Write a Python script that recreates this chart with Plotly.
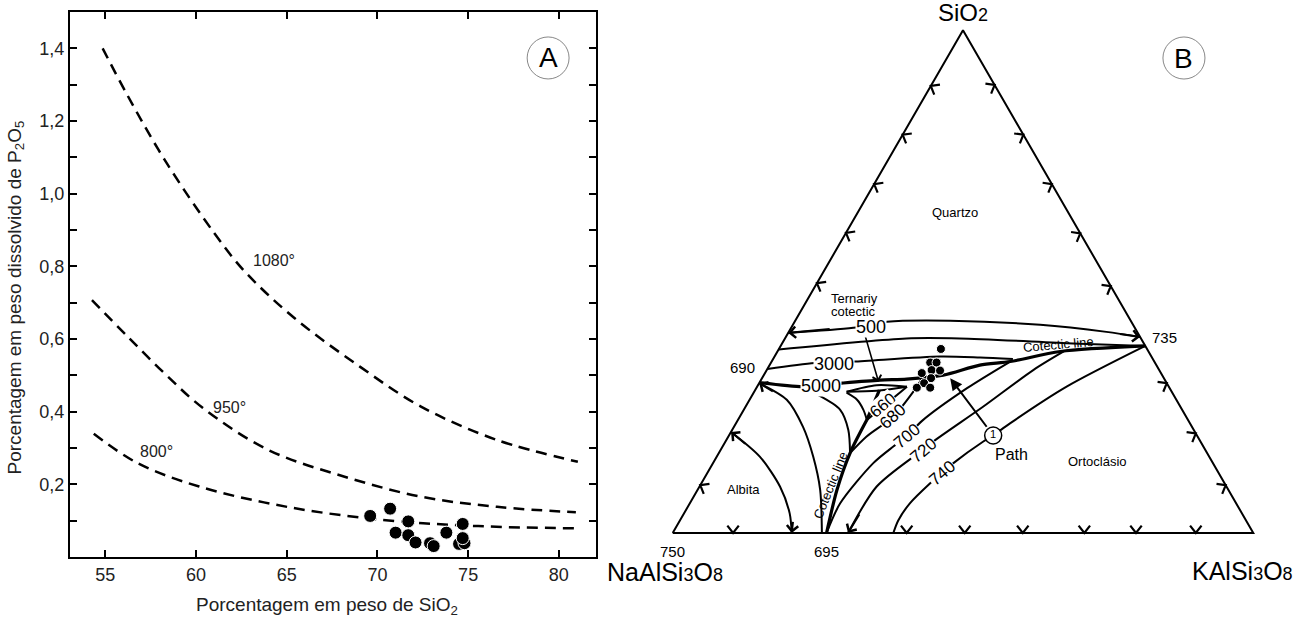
import math
import plotly.graph_objects as go

FONT = "Arial, 'Liberation Sans', sans-serif"
W, H = 1306, 618

# ---------------- Panel A data ----------------
x_1080 = [54.85, 56.16, 58.27, 61.01, 62.70, 65.44, 69.03, 72.40, 76.60, 81.05]
y_1080 = [1.400, 1.276, 1.093, 0.891, 0.785, 0.657, 0.524, 0.414, 0.322, 0.262]
x_950 = [54.26, 56.16, 58.27, 60.38, 63.97, 68.19, 72.40, 76.60, 80.94]
y_950 = [0.707, 0.610, 0.505, 0.410, 0.295, 0.221, 0.166, 0.138, 0.123]
x_800 = [54.36, 56.79, 60.17, 65.02, 70.30, 75.55, 80.94]
y_800 = [0.339, 0.258, 0.194, 0.138, 0.102, 0.085, 0.079]
sio2_samples = [69.6, 70.7, 71.7, 71.0, 71.7, 72.1, 72.9, 73.1, 73.8, 74.7, 74.5, 74.8, 74.7]
p2o5_samples = [0.113, 0.133, 0.098, 0.067, 0.060, 0.040, 0.038, 0.030, 0.067, 0.091, 0.036, 0.038, 0.052]
a_yticks = [0.1, 0.2, 0.3, 0.4, 0.5, 0.6, 0.7, 0.8, 0.9, 1.0, 1.1, 1.2, 1.3, 1.4]
a_yticktext = ["", "0,2", "", "0,4", "", "0,6", "", "0,8", "", "1,0", "", "1,2", "", "1,4"]
a_xticks = [55, 60, 65, 70, 75, 80]

# ---------------- Panel B data (ternary: q = % SiO2, o = % KAlSi3O8) ----------------
c500_q = [39.8, 40.8, 42.0, 42.2, 41.4, 40.0, 39.0]
c500_o = [0.0, 10.7, 15.9, 26.7, 42.6, 54.7, 61.0]
c2_q = [36.5, 38.7, 38.7, 37.7, 37.2]
c2_o = [0.0, 20.9, 30.1, 50.1, 62.8]
c3000_q = [32.6, 33.8, 34.1, 35.1, 34.9, 34.6]
c3000_o = [0.0, 7.6, 14.1, 28.5, 35.5, 41.3]
c5000_q = [29.9, 29.1, 29.8, 30.4, 30.6, 31.4, 33.4, 34.1, 36.1, 37.2]
c5000_o = [0.0, 7.9, 14.2, 20.5, 25.0, 30.9, 36.2, 41.1, 48.7, 62.8]
lens_up_q = [28.1, 29.4, 29.1]
lens_up_o = [15.9, 20.4, 25.8]
lens_lo_q = [28.1, 28.3, 29.1]
lens_lo_o = [15.9, 21.0, 25.8]
funnel_l_q = [27.9, 26.5, 24.5, 22.5]
funnel_l_o = [16.0, 18.5, 20.6, 22.2]
funnel_r_q = [28.4, 22.5]
funnel_r_o = [21.4, 22.2]
cot_q = [22.5, 15.9, 8.6, 0.0]
cot_o = [22.2, 22.6, 24.0, 26.5]
under_q = [27.4, 24.5, 20.5, 15.9]
under_o = [11.4, 16.6, 20.0, 22.6]
arc_q = [29.8, 26.5, 21.1, 15.2, 8.6, 0.0]
arc_o = [0.0, 6.4, 11.9, 16.6, 21.1, 25.7]
albita_q = [20.1, 15.2, 9.2, 3.9, 0.0]
albita_o = [0.0, 7.4, 13.9, 18.2, 20.5]
iso660_q = [22.5, 29.1]
iso660_o = [22.2, 25.8]
iso680_q = [15.9, 19.2, 23.1, 28.1, 30.8]
iso680_o = [22.6, 23.8, 26.4, 27.4, 27.6]
iso700_q = [0.0, 5.9, 13.9, 17.2, 19.2, 22.3, 28.8, 34.1]
iso700_o = [26.5, 25.9, 27.6, 29.4, 30.7, 31.8, 36.3, 41.1]
iso720_q = [0.0, 9.2, 15.2, 16.5, 18.2, 25.1, 32.4, 36.1]
iso720_o = [30.2, 30.5, 33.9, 34.9, 35.8, 40.9, 45.9, 49.3]
iso740_q = [0.0, 2.5, 5.9, 9.9, 11.9, 13.9, 18.2, 19.4, 21.8, 29.1, 37.2]
iso740_o = [38.0, 37.6, 37.9, 39.4, 40.4, 41.4, 44.4, 45.5, 47.2, 53.3, 62.8]
samples_q = [36.6, 33.9, 33.9, 31.8, 32.4, 32.3, 30.8, 29.8, 28.9, 28.9]
samples_o = [27.9, 27.4, 28.5, 27.0, 28.4, 29.9, 29.1, 28.4, 27.6, 29.9]
left_marks_q = [9.5, 49.7, 59.7, 69.4, 79.2, 88.9]
right_marks_q = [9.5, 19.8, 29.8, 49.1, 59.6, 69.4, 79.2, 89.1]
bottom_marks_o = [10.4, 40.3, 50.3, 60.3, 70.9, 79.8, 90.1]

S3 = math.sqrt(3) / 2


def tern(q, o):
    return [oo + qq / 2 for qq, oo in zip(q, o)], [qq * S3 for qq in q]


def tp(q, o):
    return o + q / 2, q * S3


fig = go.Figure()

# ---------- Panel A ----------
for xs, ys in [(x_1080, y_1080), (x_950, y_950), (x_800, y_800)]:
    fig.add_trace(go.Scatter(x=xs, y=ys, mode="lines", xaxis="x", yaxis="y",
                             line=dict(color="black", width=2.5, dash="11px,7px", shape="spline"),
                             hoverinfo="skip", showlegend=False))
fig.add_trace(go.Scatter(x=sio2_samples, y=p2o5_samples, mode="markers", xaxis="x", yaxis="y",
                         marker=dict(size=13, color="black", line=dict(color="white", width=1)),
                         showlegend=False))

# ---------- Panel B ----------
tri_q = [0, 0, 100, 0]
tri_o = [0, 100, 0, 0]
tx, ty = tern(tri_q, tri_o)
fig.add_trace(go.Scatter(x=tx, y=ty, mode="lines", xaxis="x2", yaxis="y2",
                         line=dict(color="black", width=2), hoverinfo="skip", showlegend=False))

# edge chevrons
L = 1.6
half = math.radians(38)
mx, my = [], []


def chevron(x0, y0, ang):
    a1, a2 = ang + half, ang - half
    mx.extend([x0 + L * math.cos(a1), x0, x0 + L * math.cos(a2), None])
    my.extend([y0 + L * math.sin(a1), y0, y0 + L * math.sin(a2), None])


for q in left_marks_q:
    x0, y0 = tp(q, 0)
    chevron(x0, y0, math.radians(-30))
for q in right_marks_q:
    x0, y0 = tp(q, 100 - q)
    chevron(x0, y0, math.radians(210))
for o in bottom_marks_o:
    x0, y0 = tp(0, o)
    chevron(x0, y0, math.radians(90))
fig.add_trace(go.Scatter(x=mx, y=my, mode="lines", xaxis="x2", yaxis="y2",
                         line=dict(color="black", width=2.2), hoverinfo="skip", showlegend=False))

thin = 2
thick = 3.2
curves = [
    (c500_q, c500_o, thin), (c2_q, c2_o, thin), (c3000_q, c3000_o, thin),
    (c5000_q, c5000_o, thick), (lens_up_q, lens_up_o, thin), (lens_lo_q, lens_lo_o, thin),
    (funnel_l_q, funnel_l_o, thin), (funnel_r_q, funnel_r_o, thick), (cot_q, cot_o, thick),
    (under_q, under_o, thin), (arc_q, arc_o, thin), (albita_q, albita_o, thin),
    (iso660_q, iso660_o, thin), (iso680_q, iso680_o, thin), (iso700_q, iso700_o, thin),
    (iso720_q, iso720_o, thin), (iso740_q, iso740_o, thin),
]
for q, o, w in curves:
    cx, cy = tern(q, o)
    fig.add_trace(go.Scatter(x=cx, y=cy, mode="lines", xaxis="x2", yaxis="y2",
                             line=dict(color="black", width=w, shape="spline", smoothing=0.8),
                             hoverinfo="skip", showlegend=False))

sx, sy = tern(samples_q, samples_o)
fig.add_trace(go.Scatter(x=sx, y=sy, mode="markers", xaxis="x2", yaxis="y2",
                         marker=dict(size=9, color="black", line=dict(color="white", width=1)),
                         showlegend=False))

# path circle "1"
pcx, pcy = tp(19.4, 45.5)
fig.add_trace(go.Scatter(x=[pcx], y=[pcy], mode="markers+text", xaxis="x2", yaxis="y2", text=["1"],
                         textposition="middle center", textfont=dict(family=FONT, size=11, color="black"),
                         marker=dict(size=17, color="white", line=dict(color="black", width=1.5)),
                         showlegend=False, hoverinfo="skip"))

ann = []


def label(q, o, text, size=13, angle=0, bg=None, **kw):
    x, y = tp(q, o)
    d = dict(x=x, y=y, xref="x2", yref="y2", text=text, showarrow=False, textangle=angle,
             xanchor="center", yanchor="middle",
             font=dict(family=FONT, size=size, color="black"), borderpad=0)
    if bg:
        d["bgcolor"] = bg
    d.update(kw)
    ann.append(d)


def arrow(q_tip, o_tip, q_tail, o_tail, head=4, size=1.1, width=2, **kw):
    x, y = tp(q_tip, o_tip)
    ax, ay = tp(q_tail, o_tail)
    d = dict(x=x, y=y, ax=ax, ay=ay, xref="x2", yref="y2", axref="x2", ayref="y2", text="",
             showarrow=True, arrowhead=head, arrowsize=size, arrowwidth=width, arrowcolor="black")
    d.update(kw)
    ann.append(d)


arrow(39.8, 0.0, 40.6, 7.0)
arrow(39.0, 61.0, 39.6, 57.0)
arrow(29.8, 0.0, 28.0, 3.5)
arrow(20.1, 0.0, 17.5, 4.0)
arrow(0.0, 20.5, 2.5, 19.5)
arrow(0.0, 30.2, 4.0, 30.3)
arrow(30.1, 20.4, 39.4, 13.4, head=4, size=1.1, width=1.6)
arrow(30.8, 32.4, 19.4, 45.5, head=2, size=1.2, width=2, startstandoff=9)

label(41.0, 13.7, "500", 18, bg="white")
label(33.6, 11.0, "3000", 18, bg="white")
label(29.2, 11.0, "5000", 18, bg="white")
label(25.3, 23.6, "660", 17, angle=-40, bg="white")
label(23.1, 26.4, "680", 17, angle=-42, bg="white")
label(19.2, 30.7, "700", 17, angle=-40, bg="white")
label(16.5, 34.9, "720", 17, angle=-40, bg="white")
label(11.9, 40.4, "740", 17, angle=-41, bg="white")
label(63.7, 16.7, "Quartzo", 13)
label(46.7, 7.9, "Ternariy", 13)
label(44.0, 9.2, "cotectic", 13)
label(8.6, 7.9, "Albita", 13)
label(14.3, 66.0, "Ortoclásio", 13)
label(15.7, 50.5, "Path", 16)
label(37.4, 47.7, "Cotectic line", 13, angle=-5)
label(9.5, 22.4, "Cotectic line", 13, angle=-68)
label(29.9, 0.0, "690", 15, xanchor="right", xshift=-3, yshift=15)
label(37.2, 62.8, "735", 15, xanchor="left", xshift=6, yshift=8)
label(0.0, 0.0, "750", 15, yanchor="top", yshift=-9)
label(0.0, 26.5, "695", 15, yanchor="top", yshift=-9)
label(100.0, 0.0, "SiO<span style='font-size:18px'>2</span>", 24, yanchor="bottom", yshift=3)
label(0.0, 0.0, "NaAlSi<span style='font-size:18px'>3</span>O<span style='font-size:18px'>8</span>", 25,
      yshift=-39, xshift=-8)
label(0.0, 100.0, "KAlSi<span style='font-size:18px'>3</span>O<span style='font-size:18px'>8</span>", 25,
      yshift=-38, xshift=-11)

# panel letters
ann.append(dict(x=79.41, y=1.3735, xref="x", yref="y", text="A", showarrow=False,
                xanchor="center", yanchor="middle", font=dict(family=FONT, size=28, color="black")))
ann.append(dict(x=88.06, y=81.81, xref="x2", yref="y2", text="B", showarrow=False,
                xanchor="center", yanchor="middle", font=dict(family=FONT, size=28, color="black")))
# axis titles for panel A
ann.append(dict(x=326.5 / W, y=(H - 606) / H, xref="paper", yref="paper", showarrow=False,
                xanchor="center", yanchor="middle",
                text="Porcentagem em peso de SiO<sub>2</sub>", font=dict(family=FONT, size=19, color="#222")))
ann.append(dict(x=15 / W, y=(H - 297.5) / H, xref="paper", yref="paper", showarrow=False, textangle=-90,
                xanchor="center", yanchor="middle",
                text="Porcentagem em peso dissolvido de P<sub>2</sub>O<sub>5</sub>",
                font=dict(family=FONT, size=19, color="#222")))
# curve labels panel A
for xv, yv, t in [(64.3, 0.816, "1080°"), (61.82, 0.412, "950°"), (57.8, 0.29, "800°")]:
    ann.append(dict(x=xv, y=yv, xref="x", yref="y", text=t, showarrow=False,
                    xanchor="center", yanchor="middle", font=dict(family=FONT, size=16, color="#222")))

shapes = [
    dict(type="circle", xref="x", yref="y", x0=79.41 - 1.156, x1=79.41 + 1.156,
         y0=1.3735 - 0.0578, y1=1.3735 + 0.0578, line=dict(color="#888", width=1)),
    dict(type="circle", xref="x2", yref="y2", x0=88.06 - 3.62, x1=88.06 + 3.62,
         y0=81.81 - 3.62, y1=81.81 + 3.62, line=dict(color="#888", width=1)),
]

fig.update_layout(
    width=W, height=H, margin=dict(l=0, r=0, t=0, b=0),
    paper_bgcolor="white", plot_bgcolor="white", showlegend=False,
    font=dict(family=FONT, color="black"),
    xaxis=dict(domain=[70 / W, 596 / W], range=[53.05, 82.05], tickvals=a_xticks,
               ticks="inside", ticklen=7, tickwidth=2, tickcolor="black",
               showline=True, linecolor="black", linewidth=2, mirror="ticks",
               showgrid=False, zeroline=False, automargin=False,
               tickfont=dict(family=FONT, size=18, color="#222")),
    yaxis=dict(domain=[(H - 557) / H, (H - 12) / H], range=[0, 1.5], tickvals=a_yticks,
               ticktext=a_yticktext, ticks="inside", ticklen=7, tickwidth=2, tickcolor="black",
               showline=True, linecolor="black", linewidth=2, mirror="ticks",
               showgrid=False, zeroline=False, automargin=False,
               tickfont=dict(family=FONT, size=18, color="#222")),
    xaxis2=dict(domain=[600 / W, 1.0], range=[-12.52, 109.08], visible=False, anchor="y2"),
    yaxis2=dict(domain=[0, 1], range=[-14.64, 91.80], visible=False, anchor="x2"),
    annotations=ann, shapes=shapes,
)

fig.write_html("out.html", config={"displayModeBar": False},
               post_script="document.body.style.margin='0';")
